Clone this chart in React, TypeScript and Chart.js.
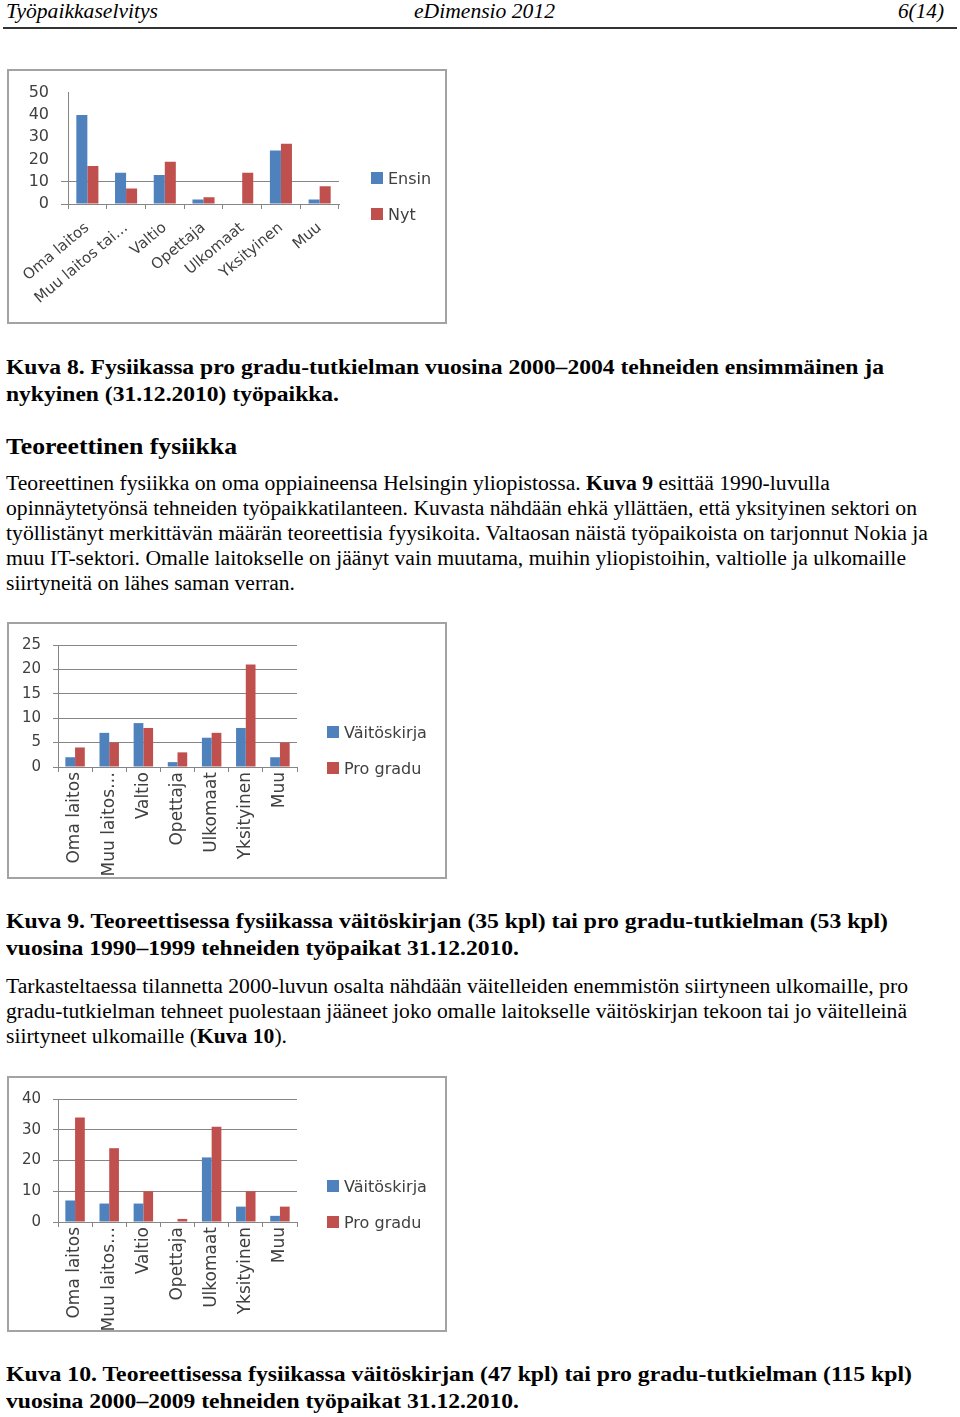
import React, { useEffect, useLayoutEffect, useRef } from "react";
import { Chart, registerables } from "chart.js";

Chart.register(...registerables);

// ---------------- data ----------------
const fig8Categories = ["Oma laitos", "Muu laitos tai…", "Valtio", "Opettaja", "Ulkomaat", "Yksityinen", "Muu"];
const fig8Ensin = [40, 14, 13, 2, 0, 24, 2];
const fig8Nyt = [17, 7, 19, 3, 14, 27, 8];
const fig8YTicks = [0, 10, 20, 30, 40, 50];
const fig8GridValues = [0, 10];

const fig9Categories = ["Oma laitos", "Muu laitos…", "Valtio", "Opettaja", "Ulkomaat", "Yksityinen", "Muu"];
const fig9Vaitoskirja = [2, 7, 9, 1, 6, 8, 2];
const fig9ProGradu = [4, 5, 8, 3, 7, 21, 5];
const fig9YTicks = [0, 5, 10, 15, 20, 25];

const fig10Categories = ["Oma laitos", "Muu laitos…", "Valtio", "Opettaja", "Ulkomaat", "Yksityinen", "Muu"];
const fig10Vaitoskirja = [7, 6, 6, 0, 21, 5, 2];
const fig10ProGradu = [34, 24, 10, 1, 31, 10, 5];
const fig10YTicks = [0, 10, 20, 30, 40];

const BLUE = "#4F81BD";
const RED = "#C0504D";
const TEXT = "#404040";
const GRID = "#868686";
const CHART_FONT = '"DejaVu Sans", sans-serif';

type Series = { label: string; data: number[]; color: string };
type Spec = {
  labels: string[];
  series: Series[];
  yTicks: number[];
  gridValues: number[] | null;
  rotation: number;
  xFont: number;
  yFont: number;
  legendFont: number;
  canvasW: number;
  canvasH: number;
  plotLeft: number;
  plotRight: number;
  plotTop: number;
  plotBottom: number;
  legendBoxX: number;
  legendY0: number;
  legendStep: number;
  yTickLen: number;
  yTickPad: number;
  xTickLen: number;
  xTickPad: number;
};

function BarChart({ spec }: { spec: Spec }) {
  const ref = useRef<HTMLCanvasElement>(null);
  useEffect(() => {
    const canvas = ref.current!;
    const padRight0 = Math.max(0, spec.canvasW - spec.plotRight);
    const xHeight = spec.canvasH - spec.plotBottom;
    const yMax = spec.yTicks[spec.yTicks.length - 1];
    const yStep = spec.yTicks[1] - spec.yTicks[0];

    const chart = new Chart(canvas, {
      type: "bar",
      data: {
        labels: spec.labels,
        datasets: spec.series.map((s) => ({
          label: s.label,
          data: s.data,
          backgroundColor: s.color,
          borderWidth: 0,
          categoryPercentage: 0.57,
          barPercentage: 1,
        })),
      },
      options: {
        responsive: false,
        animation: false,
        layout: { padding: { top: spec.plotTop, bottom: 0, left: 0, right: padRight0 } },
        plugins: {
          tooltip: { enabled: false },
          legend: { display: false },
        },
        scales: {
          x: {
            grid: {
              display: true,
              drawOnChartArea: false,
              tickLength: spec.xTickLen,
              color: GRID,
              offset: true,
            },
            border: { display: true, color: GRID },
            ticks: {
              autoSkip: false,
              minRotation: spec.rotation,
              maxRotation: spec.rotation,
              padding: spec.xTickPad,
              color: TEXT,
              font: { family: CHART_FONT, size: spec.xFont },
            },
            afterFit: (s: any) => {
              s.height = xHeight;
            },
          },
          y: {
            min: 0,
            max: yMax,
            ticks: {
              stepSize: yStep,
              padding: spec.yTickPad,
              color: TEXT,
              font: { family: CHART_FONT, size: spec.yFont },
            },
            grid: {
              tickLength: spec.yTickLen,
              color: (c: any) =>
                spec.gridValues === null || (c.tick && spec.gridValues.includes(c.tick.value))
                  ? GRID
                  : "rgba(0,0,0,0)",
            },
            border: { display: true, color: GRID },
            afterFit: (s: any) => {
              s.width = spec.plotLeft;
            },
          },
        },
      } as any,
    });
    const diff = chart.chartArea.right - spec.plotRight;
    if (Math.abs(diff) > 0.5) {
      (chart.options.layout as any).padding.right = Math.max(0, padRight0 + diff);
      chart.update();
    }
    return () => chart.destroy();
  }, [spec]);
  return <canvas ref={ref} width={spec.canvasW} height={spec.canvasH} style={{ display: "block" }} />;
}

function Legend({ spec }: { spec: Spec }) {
  return (
    <>
      {spec.series.map((s, i) => {
        const cy = spec.legendY0 + i * spec.legendStep;
        return (
          <div
            key={s.label}
            style={{
              position: "absolute",
              left: spec.legendBoxX,
              top: cy - 12,
              height: 24,
              display: "flex",
              alignItems: "center",
              whiteSpace: "nowrap",
              fontFamily: CHART_FONT,
              fontSize: spec.legendFont,
              color: TEXT,
            }}
          >
            <span style={{ display: "inline-block", width: 12, height: 12, background: s.color, marginRight: 5 }} />
            <span>{s.label}</span>
          </div>
        );
      })}
    </>
  );
}

function ChartFrame({ top, height, spec }: { top: number; height: number; spec: Spec }) {
  return (
    <div
      style={{
        position: "absolute",
        left: 7,
        top,
        width: 440,
        height,
        boxSizing: "border-box",
        border: "2px solid #a3a3a3",
        background: "#fff",
      }}
    >
      <BarChart spec={spec} />
      <Legend spec={spec} />
    </div>
  );
}

function FitLine({
  y,
  left = 6,
  width,
  size,
  bold,
  italic,
  children,
}: {
  y: number;
  left?: number;
  width: number;
  size: number;
  bold?: boolean;
  italic?: boolean;
  children: React.ReactNode;
}) {
  const ref = useRef<HTMLSpanElement>(null);
  useLayoutEffect(() => {
    const el = ref.current;
    if (!el) return;
    el.style.transform = "none";
    const w = el.getBoundingClientRect().width;
    if (w > 0) el.style.transform = `scaleX(${width / w})`;
  }, [width]);
  const lh = Math.round(size * 1.3);
  return (
    <div
      style={{
        position: "absolute",
        left,
        top: y - lh / 2,
        height: lh,
        lineHeight: lh + "px",
        whiteSpace: "nowrap",
        fontSize: size,
        fontWeight: bold ? "bold" : "normal",
        fontStyle: italic ? "italic" : "normal",
      }}
    >
      <span ref={ref} style={{ display: "inline-block", transformOrigin: "0 50%" }}>
        {children}
      </span>
    </div>
  );
}

const spec8: Spec = {
  labels: fig8Categories,
  series: [
    { label: "Ensin", data: fig8Ensin, color: BLUE },
    { label: "Nyt", data: fig8Nyt, color: RED },
  ],
  yTicks: fig8YTicks,
  gridValues: fig8GridValues,
  rotation: 40,
  xFont: 15,
  yFont: 16,
  legendFont: 16,
  canvasW: 436,
  canvasH: 251,
  plotLeft: 59,
  plotRight: 330,
  plotTop: 20,
  plotBottom: 133,
  legendBoxX: 362,
  legendY0: 107,
  legendStep: 36,
  yTickLen: 7,
  yTickPad: 12,
  xTickLen: 5,
  xTickPad: 10,
};

const spec9: Spec = {
  labels: fig9Categories,
  series: [
    { label: "Väitöskirja", data: fig9Vaitoskirja, color: BLUE },
    { label: "Pro gradu", data: fig9ProGradu, color: RED },
  ],
  yTicks: fig9YTicks,
  gridValues: null,
  rotation: 90,
  xFont: 17,
  yFont: 15,
  legendFont: 16,
  canvasW: 436,
  canvasH: 253,
  plotLeft: 49,
  plotRight: 288,
  plotTop: 21,
  plotBottom: 143,
  legendBoxX: 318,
  legendY0: 108,
  legendStep: 36,
  yTickLen: 5,
  yTickPad: 12,
  xTickLen: 5,
  xTickPad: 0,
};

const spec10: Spec = {
  labels: fig10Categories,
  series: [
    { label: "Väitöskirja", data: fig10Vaitoskirja, color: BLUE },
    { label: "Pro gradu", data: fig10ProGradu, color: RED },
  ],
  yTicks: fig10YTicks,
  gridValues: null,
  rotation: 90,
  xFont: 17,
  yFont: 15,
  legendFont: 16,
  canvasW: 436,
  canvasH: 252,
  plotLeft: 49,
  plotRight: 288,
  plotTop: 20,
  plotBottom: 144,
  legendBoxX: 318,
  legendY0: 108,
  legendStep: 36,
  yTickLen: 5,
  yTickPad: 12,
  xTickLen: 5,
  xTickPad: 0,
};

export default function App() {
  return (
    <div
      style={{
        position: "absolute",
        left: 0,
        top: 0,
        width: 960,
        height: 1417,
        overflow: "hidden",
        background: "#fff",
        color: "#000",
        fontFamily: '"Liberation Serif", "Times New Roman", serif',
      }}
    >
      {/* header */}
      <FitLine y={11} left={6} width={152} size={20} italic>
        Työpaikkaselvitys
      </FitLine>
      <FitLine y={11} left={414} width={141} size={20} italic>
        eDimensio 2012
      </FitLine>
      <FitLine y={11} left={898} width={46} size={20} italic>
        6(14)
      </FitLine>
      <div style={{ position: "absolute", left: 3, top: 27, width: 954, height: 2, background: "#333" }} />

      <ChartFrame top={69} height={255} spec={spec8} />

      <FitLine y={367} width={878} size={21} bold>
        Kuva 8. Fysiikassa pro gradu-tutkielman vuosina 2000–2004 tehneiden ensimmäinen ja
      </FitLine>
      <FitLine y={394} width={333} size={21} bold>
        nykyinen (31.12.2010) työpaikka.
      </FitLine>

      <FitLine y={446} width={231} size={24} bold>
        Teoreettinen fysiikka
      </FitLine>

      <FitLine y={483} width={824} size={20}>
        Teoreettinen fysiikka on oma oppiaineensa Helsingin yliopistossa. <b>Kuva 9</b> esittää 1990-luvulla
      </FitLine>
      <FitLine y={508} width={911} size={20}>
        opinnäytetyönsä tehneiden työpaikkatilanteen. Kuvasta nähdään ehkä yllättäen, että yksityinen sektori on
      </FitLine>
      <FitLine y={533} width={922} size={20}>
        työllistänyt merkittävän määrän teoreettisia fyysikoita. Valtaosan näistä työpaikoista on tarjonnut Nokia ja
      </FitLine>
      <FitLine y={558} width={900} size={20}>
        muu IT-sektori. Omalle laitokselle on jäänyt vain muutama, muihin yliopistoihin, valtiolle ja ulkomaille
      </FitLine>
      <FitLine y={583} width={289} size={20}>
        siirtyneitä on lähes saman verran.
      </FitLine>

      <ChartFrame top={622} height={257} spec={spec9} />

      <FitLine y={921} width={882} size={21} bold>
        Kuva 9. Teoreettisessa fysiikassa väitöskirjan (35 kpl) tai pro gradu-tutkielman (53 kpl)
      </FitLine>
      <FitLine y={948} width={513} size={21} bold>
        vuosina 1990–1999 tehneiden työpaikat 31.12.2010.
      </FitLine>

      <FitLine y={986} width={902} size={20}>
        Tarkasteltaessa tilannetta 2000-luvun osalta nähdään väitelleiden enemmistön siirtyneen ulkomaille, pro
      </FitLine>
      <FitLine y={1011} width={901} size={20}>
        gradu-tutkielman tehneet puolestaan jääneet joko omalle laitokselle väitöskirjan tekoon tai jo väitelleinä
      </FitLine>
      <FitLine y={1036} width={281} size={20}>
        siirtyneet ulkomaille (<b>Kuva 10</b>).
      </FitLine>

      <ChartFrame top={1076} height={256} spec={spec10} />

      <FitLine y={1374} width={906} size={21} bold>
        Kuva 10. Teoreettisessa fysiikassa väitöskirjan (47 kpl) tai pro gradu-tutkielman (115 kpl)
      </FitLine>
      <FitLine y={1401} width={513} size={21} bold>
        vuosina 2000–2009 tehneiden työpaikat 31.12.2010.
      </FitLine>
    </div>
  );
}
